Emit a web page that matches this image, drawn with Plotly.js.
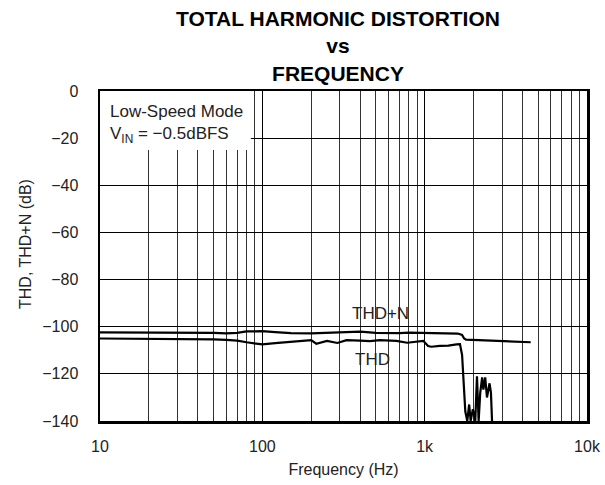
<!DOCTYPE html>
<html>
<head>
<meta charset="utf-8">
<script src="https://cdn.plot.ly/plotly-3.0.1.min.js"></script>
<style>html,body{margin:0;padding:0;background:#fff;}#chart{width:605px;height:485px;}</style>
</head>
<body>
<div id="chart"></div>
<script>
// ---- data ----
const thdnFreq = [10, 20, 30, 40, 50, 60, 70, 80, 90, 100, 120, 150, 200, 250, 300, 400, 500, 600, 700, 800, 900, 1000, 1200, 1400, 1600, 1700, 1750, 1800, 2000, 2500, 3000, 3500, 4000, 4500];
const thdnDb   = [-102.4, -102.4, -102.4, -102.4, -102.6, -102.8, -102.6, -102.0, -101.8, -101.9, -102.3, -102.7, -102.8, -102.6, -102.5, -102.1, -102.6, -102.8, -102.7, -102.5, -102.6, -102.8, -102.8, -102.8, -102.9, -103.5, -105.0, -105.5, -105.6, -105.9, -106.0, -106.3, -106.4, -106.6];

const thdFreq = [10, 20, 30, 40, 50, 60, 70, 80, 90, 100, 120, 150, 180, 200, 215, 250, 290, 330, 400, 460, 530, 600, 670, 780, 900, 980, 1050, 1100, 1240, 1400, 1570, 1650, 1700, 1740, 1780, 1830, 1880, 1920, 1980, 2050, 2100, 2150, 2200, 2260, 2300, 2360, 2420, 2510, 2560, 2600];
const thdDb   = [-105.0, -105.1, -105.2, -105.3, -105.4, -105.6, -105.9, -106.6, -107.2, -107.5, -107.0, -106.3, -106.0, -105.7, -107.2, -106.0, -106.9, -105.7, -105.9, -106.1, -105.7, -105.9, -106.0, -106.8, -106.2, -106.0, -108.2, -108.5, -108.1, -108.0, -107.5, -107.4, -112, -125, -136, -140, -133, -140, -135, -140, -121, -140, -128, -121.5, -126.7, -121.5, -130, -124, -128, -140];

const xTickVals = [10, 100, 1000, 10000];
const xTickText = ['10', '100', '1k', '10k'];
const xMinorVals = [20,30,40,50,60,70,80,90,200,300,400,500,600,700,800,900,2000,3000,4000,5000,6000,7000,8000,9000];
const yTickVals = [-140, -120, -100, -80, -60, -40, -20, 0];
const yTickText = ['\u2212140', '\u2212120', '\u2212100', '\u221280', '\u221260', '\u221240', '\u221220', '0'];

const FONT = 'Liberation Sans, Arial, Helvetica, sans-serif';

const traces = [
  { x: thdnFreq, y: thdnDb, type: 'scatter', mode: 'lines', name: 'THD+N',
    line: { color: '#000', width: 2.2 }, cliponaxis: true },
  { x: thdFreq, y: thdDb, type: 'scatter', mode: 'lines', name: 'THD',
    line: { color: '#000', width: 2.2 }, cliponaxis: true }
];

const layout = {
  width: 605, height: 485,
  margin: { l: 100, r: 18, t: 91, b: 64 },
  paper_bgcolor: '#fff', plot_bgcolor: '#fff',
  showlegend: false,
  font: { family: FONT, color: '#222', size: 16 },
  title: {
    text: '<b>TOTAL HARMONIC DISTORTION<br>vs<br>FREQUENCY</b>',
    font: { family: FONT, size: 21, color: '#000' },
    x: 338 / 605, xref: 'container', xanchor: 'center',
    y: 1 - 26 / 485, yref: 'container', yanchor: 'middle'
  },
  xaxis: {
    type: 'log', range: [1, 4],
    tickmode: 'array', tickvals: xTickVals, ticktext: xTickText,
    tickfont: { family: FONT, size: 16, color: '#222' },
    ticks: '', ticklabelstandoff: 9,
    showgrid: true, gridcolor: '#000', gridwidth: 1,
    minor: { tickmode: 'array', tickvals: xMinorVals, showgrid: true, gridcolor: '#333', gridwidth: 1, ticks: '' },
    showline: true, linecolor: '#000', linewidth: 2.5, mirror: true,
    zeroline: false,
    title: { text: 'Frequency (Hz)', font: { family: FONT, size: 16, color: '#222' }, standoff: 10 }
  },
  yaxis: {
    range: [-140, 0],
    tickmode: 'array', tickvals: yTickVals, ticktext: yTickText,
    tickfont: { family: FONT, size: 16, color: '#222' },
    ticks: '', ticklabelstandoff: 16,
    showgrid: true, gridcolor: '#000', gridwidth: 1,
    showline: true, linecolor: '#000', linewidth: 2.5, mirror: true,
    zeroline: false
  },
  shapes: [
    { type: 'rect', layer: 'between', xref: 'x', yref: 'y',
      x0: 10, x1: 85, y0: -25, y1: 0,
      fillcolor: '#fff', line: { width: 0 } }
  ],
  annotations: [
    { xref: 'paper', yref: 'paper', x: 8 / 487, y: 1 - 9 / 330, xanchor: 'left', yanchor: 'top',
      align: 'left', showarrow: false,
      text: 'Low-Speed Mode<br>V<sub>IN</sub> = \u22120.5dBFS',
      font: { family: FONT, size: 17, color: '#222' } },
    { xref: 'x', yref: 'y', x: 2.725, y: -94.2, showarrow: false,
      text: 'THD+N', font: { family: FONT, size: 17, color: '#222' } },
    { xref: 'x', yref: 'y', x: 2.676, y: -114.1, showarrow: false,
      text: 'THD', font: { family: FONT, size: 17, color: '#222' } },
    { xref: 'paper', yref: 'paper', x: -75 / 487, y: (421 - 244) / 330, xanchor: 'center', yanchor: 'middle',
      textangle: -90, showarrow: false,
      text: 'THD, THD+N (dB)', font: { family: FONT, size: 16, color: '#222' } }
  ]
};

Plotly.newPlot('chart', traces, layout, { displayModeBar: false, staticPlot: true });
</script>
</body>
</html>
